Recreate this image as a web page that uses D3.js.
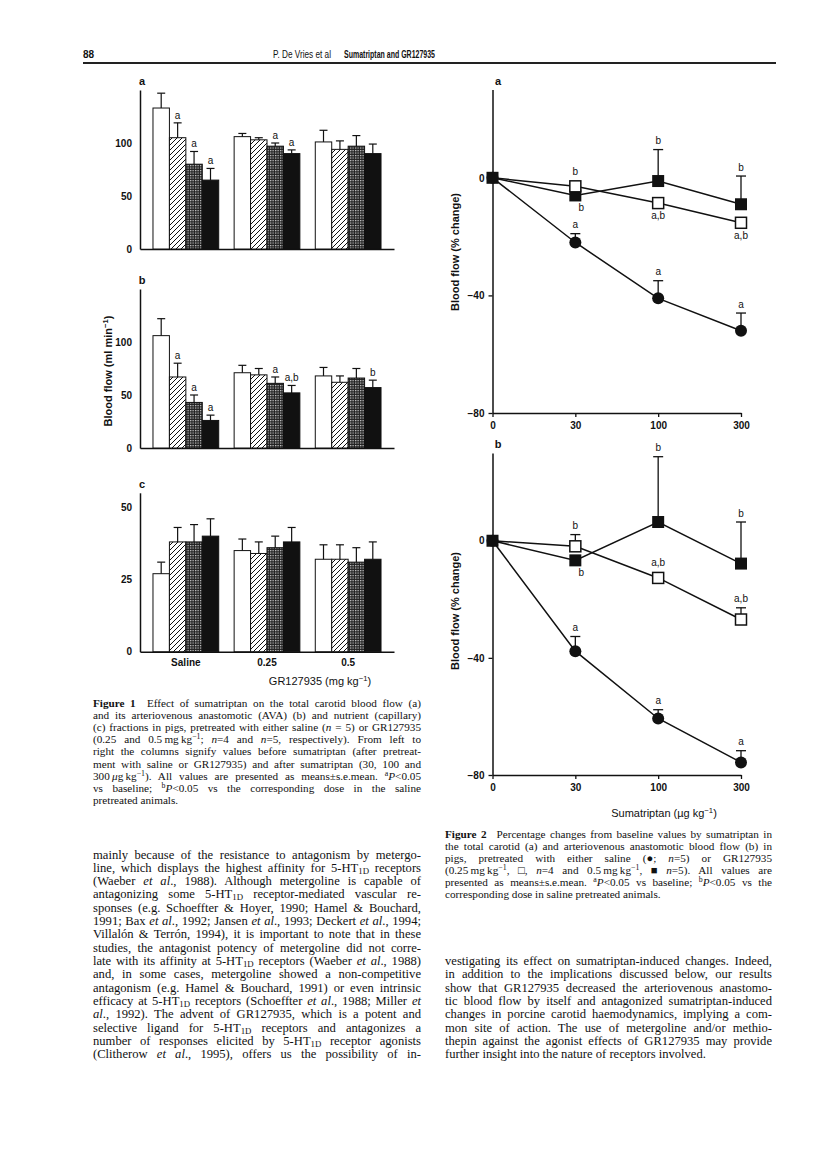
<!DOCTYPE html>
<html>
<head>
<meta charset="utf-8">
<title>Sumatriptan and GR127935</title>
<script src="https://d3js.org/d3.v7.min.js"></script>
<style>
  body { margin: 0; background: #fff; }
  svg { display: block; }
  .sans, .tick text { font-family: "Liberation Sans", Arial, sans-serif; fill: #111; }
  .serif { font-family: "Liberation Serif", "Times New Roman", serif; fill: #111; }
  .narrow { font-family: "Liberation Sans Narrow", "Arial Narrow", "Liberation Sans", sans-serif; fill: #111; }
  .domain { stroke: #111; stroke-width: 1.5; }
  .tick line { stroke: #111; stroke-width: 1.3; }
</style>
</head>
<body>
<script>
// ---- Figure 1: blood flow (ml/min), groups x periods ----
var pretreat = ["Saline", "0.25", "0.5"];
var periods = ["before", "30", "100", "300"];

var totalMean = [[133, 105, 80, 65], [106, 103, 97, 90], [101, 94, 97, 90]];
var totalSem  = [[14, 14, 12, 11], [3, 2, 3, 3.5], [11, 8, 10, 9]];
var totalSig  = [["", "a", "a", "a"], ["", "", "a", "a"], ["", "", "", ""]];

var avaMean = [[106, 67, 43, 26], [71, 69, 61, 52], [68, 62, 66, 57]];
var avaSem  = [[16, 13, 7, 5], [7, 6, 6, 7], [8, 6, 9, 7]];
var avaSig  = [["", "a", "a", "a"], ["", "", "a", "a,b"], ["", "", "", "b"]];

var capMean = [[27, 38, 38, 40], [35, 34, 36, 38], [32, 32, 31, 32]];
var capSem  = [[4, 5, 6, 6], [4, 4, 4, 5], [5, 5, 5, 6]];
var capSig  = [["", "", "", ""], ["", "", "", ""], ["", "", "", ""]];

// ---- Figure 2: % change vs sumatriptan dose ----
var sumaDoses = ["0", "30", "100", "300"];

var carSaline = [0, -22, -41, -52],   carSalineSem = [0, 3, 6, 6];
var carGr025  = [0, -2.9, -8.6, -15.3], carGr025Sem = [0, 0, 0, 0];
var carGr05   = [0, -6, -1.1, -9],    carGr05Sem   = [0, 0, 10.7, 9.6];
var carSalineSig = ["", "a", "a", "a"],   carSalineBelow = [false, false, false, false];
var carGr025Sig  = ["", "b", "a,b", "a,b"], carGr025Below = [false, false, true, true];
var carGr05Sig   = ["", "b", "b", "b"],   carGr05Below   = [false, true, false, false];

var avSaline = [0, -37.7, -60.7, -75.7], avSalineSem = [0, 5, 3, 4];
var avGr025  = [0, -1.9, -12.7, -26.9],  avGr025Sem  = [0, 4, 0, 4];
var avGr05   = [0, -6.7, 6.4, -7.8],     avGr05Sem   = [0, 0, 22.3, 14.2];
var avSalineSig = ["", "a", "a", "a"],   avSalineBelow = [false, false, false, false];
var avGr025Sig  = ["", "b", "a,b", "a,b"], avGr025Below = [false, false, false, false];
var avGr05Sig   = ["", "b", "b", "b"],   avGr05Below   = [false, true, false, false];

// ---- page text ----
var fig1Caption = [
  "**Figure 1**\u2002 Effect of sumatriptan on the total carotid blood flow (a)",
  "and its arteriovenous anastomotic (AVA) (b) and nutrient (capillary)",
  "(c) fractions in pigs, pretreated with either saline (*n* = 5) or GR127935",
  "(0.25 and 0.5\u2009mg\u2009kg^{\u22121}; *n*=4 and *n*=5, respectively). From left to",
  "right the columns signify values before sumatriptan (after pretreat-",
  "ment with saline or GR127935) and after sumatriptan (30, 100 and",
  "300\u2009*\u03bc*g\u2009kg^{\u22121}). All values are presented as means\u00b1s.e.mean. ^{a}*P*<0.05",
  "vs baseline; ^{b}*P*<0.05 vs the corresponding dose in the saline",
  "pretreated animals."
];
var leftBody = [
  "mainly because of the resistance to antagonism by metergo-",
  "line, which displays the highest affinity for 5-HT_{1D} receptors",
  "(Waeber *et al*., 1988). Although metergoline is capable of",
  "antagonizing some 5-HT_{1D} receptor-mediated vascular re-",
  "sponses (e.g. Schoeffter & Hoyer, 1990; Hamel & Bouchard,",
  "1991; Bax *et al*., 1992; Jansen *et al*., 1993; Deckert *et al*., 1994;",
  "Villal\u00f3n & Terr\u00f3n, 1994), it is important to note that in these",
  "studies, the antagonist potency of metergoline did not corre-",
  "late with its affinity at 5-HT_{1D} receptors (Waeber *et al*., 1988)",
  "and, in some cases, metergoline showed a non-competitive",
  "antagonism (e.g. Hamel & Bouchard, 1991) or even intrinsic",
  "efficacy at 5-HT_{1D} receptors (Schoeffter *et al*., 1988; Miller *et*",
  "*al*., 1992). The advent of GR127935, which is a potent and",
  "selective ligand for 5-HT_{1D} receptors and antagonizes a",
  "number of responses elicited by 5-HT_{1D} receptor agonists",
  "(Clitherow *et al*., 1995), offers us the possibility of in-"
];
var fig2Caption = [
  "**Figure 2**\u2002 Percentage changes from baseline values by sumatriptan in",
  "the total carotid (a) and arteriovenous anastomotic blood flow (b) in",
  "pigs, pretreated with either saline (\u25cf; *n*=5) or GR127935",
  "(0.25\u2009mg\u2009kg^{\u22121}, \u25a1, *n*=4 and 0.5\u2009mg\u2009kg^{\u22121}, \u25a0 *n*=5). All values are",
  "presented as means\u00b1s.e.mean. ^{a}*P*<0.05 vs baseline; ^{b}*P*<0.05 vs the",
  "corresponding dose in saline pretreated animals."
];
var rightBody = [
  "vestigating its effect on sumatriptan-induced changes. Indeed,",
  "in addition to the implications discussed below, our results",
  "show that GR127935 decreased the arteriovenous anastomo-",
  "tic blood flow by itself and antagonized sumatriptan-induced",
  "changes in porcine carotid haemodynamics, implying a com-",
  "mon site of action. The use of metergoline and/or methio-",
  "thepin against the agonist effects of GR127935 may provide",
  "further insight into the nature of receptors involved."
];

var svg = d3.select("body").append("svg")
    .attr("width", 816)
    .attr("height", 1155);

var defs = svg.append("defs");
var hatch = defs.append("pattern").attr("id", "hatch")
    .attr("patternUnits", "userSpaceOnUse").attr("width", 5).attr("height", 5);
hatch.append("rect").attr("width", 5).attr("height", 5).attr("fill", "#fff");
hatch.append("path").attr("d", "M-1,1 L1,-1 M0,5 L5,0 M4,6 L6,4")
    .attr("stroke", "#111").attr("stroke-width", 1);
var dots = defs.append("pattern").attr("id", "dots")
    .attr("patternUnits", "userSpaceOnUse").attr("width", 2.5).attr("height", 2.5);
dots.append("rect").attr("width", 2.5).attr("height", 2.5).attr("fill", "#222");
dots.append("circle").attr("cx", 0.7).attr("cy", 0.7).attr("r", 0.65).attr("fill", "#fff");

var barFills = ["#fff", "url(#hatch)", "url(#dots)", "#111"];

// ---------- header ----------
svg.append("text").attr("class", "narrow").attr("x", 83).attr("y", 58)
    .attr("font-size", 10).attr("font-weight", "bold").text("88");
svg.append("text").attr("class", "narrow").attr("x", 273).attr("y", 58)
    .attr("font-size", 10.5).attr("textLength", 58).attr("lengthAdjust", "spacingAndGlyphs")
    .text("P. De Vries et al");
svg.append("text").attr("class", "narrow").attr("x", 344).attr("y", 58)
    .attr("font-size", 10.5).attr("font-weight", "bold").attr("textLength", 91)
    .attr("lengthAdjust", "spacingAndGlyphs").text("Sumatriptan and GR127935");
svg.append("line").attr("x1", 83).attr("x2", 776).attr("y1", 63).attr("y2", 63)
    .attr("stroke", "#222").attr("stroke-width", 2);

// ---------- figure 1 ----------
function barPanel(means, sems, sigs, yMax, ticks, top, base, letter, showX) {
  var g = svg.append("g");
  var y = d3.scaleLinear().domain([0, yMax]).range([base, top]);
  var x0 = d3.scaleBand().domain(pretreat).range([140, 394])
      .paddingInner(0.19).paddingOuter(0.16);
  var x1 = d3.scaleBand().domain(periods).range([0, x0.bandwidth()]);

  g.append("g").attr("transform", "translate(140,0)")
      .call(d3.axisLeft(y).tickValues(ticks).tickSize(0).tickSizeOuter(0).tickPadding(8))
      .call(function(a) { a.selectAll("text").attr("font-size", 10).attr("font-weight", "bold"); });
  g.append("g").attr("transform", "translate(0," + base + ")")
      .call(d3.axisBottom(x0).tickSize(0).tickSizeOuter(0).tickPadding(7)
        .tickFormat(showX ? null : function() { return ""; }))
      .call(function(a) { a.selectAll("text").attr("font-size", 10).attr("font-weight", "bold"); });

  g.append("text").attr("class", "sans").attr("x", 142).attr("y", top - 5)
      .attr("text-anchor", "middle").attr("font-size", 11).attr("font-weight", "bold")
      .text(letter);

  pretreat.forEach(function(grp, gi) {
    periods.forEach(function(p, pi) {
      var v = means[gi][pi], e = sems[gi][pi];
      var bx = x0(grp) + x1(p), cx = bx + x1.bandwidth() / 2;
      g.append("rect").attr("x", bx).attr("y", y(v))
          .attr("width", x1.bandwidth()).attr("height", base - y(v))
          .attr("fill", barFills[pi]).attr("stroke", "#111").attr("stroke-width", 1);
      g.append("line").attr("x1", cx).attr("x2", cx).attr("y1", y(v)).attr("y2", y(v + e))
          .attr("stroke", "#111").attr("stroke-width", 1.2);
      g.append("line").attr("x1", cx - 4).attr("x2", cx + 4).attr("y1", y(v + e)).attr("y2", y(v + e))
          .attr("stroke", "#111").attr("stroke-width", 1.2);
      if (sigs[gi][pi]) {
        g.append("text").attr("class", "sans").attr("x", cx).attr("y", y(v + e) - 4)
            .attr("text-anchor", "middle").attr("font-size", 10).text(sigs[gi][pi]);
      }
    });
  });
  return g;
}

barPanel(totalMean, totalSem, totalSig, 150, [0, 50, 100], 90, 249, "a", false);
var pb = barPanel(avaMean, avaSem, avaSig, 150, [0, 50, 100], 289, 448, "b", false);
barPanel(capMean, capSem, capSig, 55, [0, 25, 50], 492.8, 651.7, "c", true);

var yl1 = pb.append("text").attr("class", "sans").attr("text-anchor", "middle")
    .attr("transform", "translate(112,371) rotate(-90)")
    .attr("font-size", 11).attr("font-weight", "bold");
rich(yl1, "Blood flow (ml min^{\u22121})");

var xl1 = svg.append("text").attr("class", "sans").attr("x", 320).attr("y", 685)
    .attr("text-anchor", "middle").attr("font-size", 11);
rich(xl1, "GR127935 (mg kg^{\u22121})");

// ---------- figure 2 ----------
function linePanel(sets, top, base, letter, titleY) {
  var g = svg.append("g");
  var y = d3.scaleLinear().domain([-80, 30]).range([base, top]);
  var x = d3.scalePoint().domain(sumaDoses).range([492.5, 741]);

  g.append("g").attr("transform", "translate(492.5,0)")
      .call(d3.axisLeft(y).tickValues([-80, -40, 0]).tickSize(4).tickSizeOuter(0).tickPadding(4))
      .call(function(a) { a.selectAll("text").attr("font-size", 10).attr("font-weight", "bold"); });
  g.append("g").attr("transform", "translate(0," + base + ")")
      .call(d3.axisBottom(x).tickSize(4).tickSizeOuter(0).tickPadding(5))
      .call(function(a) { a.selectAll("text").attr("font-size", 10).attr("font-weight", "bold"); });

  g.append("text").attr("class", "sans").attr("x", 498).attr("y", top - 5)
      .attr("text-anchor", "middle").attr("font-size", 11).attr("font-weight", "bold")
      .text(letter);

  var yl = g.append("text").attr("class", "sans").attr("text-anchor", "middle")
      .attr("transform", "translate(459," + titleY + ") rotate(-90)")
      .attr("font-size", 11).attr("font-weight", "bold");
  rich(yl, "Blood flow (% change)");

  var line = d3.line().x(function(d, i) { return x(sumaDoses[i]); }).y(function(d) { return y(d); });

  sets.forEach(function(s) {
    g.append("path").attr("d", line(s.mean)).attr("fill", "none")
        .attr("stroke", "#111").attr("stroke-width", 1.5);
  });
  sets.forEach(function(s) {
    s.mean.forEach(function(v, i) {
      var cx = x(sumaDoses[i]), e = s.sem[i];
      if (e > 0) {
        g.append("line").attr("x1", cx).attr("x2", cx).attr("y1", y(v)).attr("y2", y(v + e))
            .attr("stroke", "#111").attr("stroke-width", 1.3);
        g.append("line").attr("x1", cx - 5).attr("x2", cx + 5).attr("y1", y(v + e)).attr("y2", y(v + e))
            .attr("stroke", "#111").attr("stroke-width", 1.3);
      }
      if (s.shape === "circle") {
        g.append("circle").attr("cx", cx).attr("cy", y(v)).attr("r", 6).attr("fill", "#111");
      } else if (s.shape === "filled") {
        g.append("rect").attr("x", cx - 6).attr("y", y(v) - 6).attr("width", 12).attr("height", 12)
            .attr("fill", "#111");
      } else if (i > 0) {
        g.append("rect").attr("x", cx - 5.5).attr("y", y(v) - 5.5).attr("width", 11).attr("height", 11)
            .attr("fill", "#fff").attr("stroke", "#111").attr("stroke-width", 1.5);
      }
      if (s.sig[i]) {
        var ty = s.below[i] ? y(v) + 16 : (e > 0 ? y(v + e) : y(v) - 6) - 5.5;
        var tx = (s.below[i] && s.shape === "filled") ? cx + 6 : cx;
        g.append("text").attr("class", "sans").attr("x", tx).attr("y", ty)
            .attr("text-anchor", "middle").attr("font-size", 10).text(s.sig[i]);
      }
    });
  });
  return { g: g, x: x };
}

linePanel([
  { mean: carSaline, sem: carSalineSem, sig: carSalineSig, below: carSalineBelow, shape: "circle" },
  { mean: carGr05, sem: carGr05Sem, sig: carGr05Sig, below: carGr05Below, shape: "filled" },
  { mean: carGr025, sem: carGr025Sem, sig: carGr025Sig, below: carGr025Below, shape: "open" }
], 89.6, 413, "a", 252);

linePanel([
  { mean: avSaline, sem: avSalineSem, sig: avSalineSig, below: avSalineBelow, shape: "circle" },
  { mean: avGr05, sem: avGr05Sem, sig: avGr05Sig, below: avGr05Below, shape: "filled" },
  { mean: avGr025, sem: avGr025Sem, sig: avGr025Sig, below: avGr025Below, shape: "open" }
], 452.9, 775, "b", 611);

var xl2 = svg.append("text").attr("class", "sans").attr("x", 664).attr("y", 817)
    .attr("text-anchor", "middle").attr("font-size", 11);
rich(xl2, "Sumatriptan (\u00b5g kg^{\u22121})");

// ---------- text blocks ----------
function rich(sel, str) {
  var re = /\*\*(.+?)\*\*|\*(.+?)\*|\^\{(.+?)\}|_\{(.+?)\}|([^*^_]+)/g, m;
  while ((m = re.exec(str))) {
    var t = sel.append("tspan");
    if (m[1]) t.attr("font-weight", "bold").text(m[1]);
    else if (m[2]) t.attr("font-style", "italic").text(m[2]);
    else if (m[3]) t.attr("baseline-shift", "0.5em").attr("font-size", "70%").text(m[3]);
    else if (m[4]) t.attr("baseline-shift", "-0.2em").attr("font-size", "70%").text(m[4]);
    else t.text(m[5]);
  }
}

function block(lines, x, y0, lh, width, size, justifyLast) {
  lines.forEach(function(s, i) {
    var t = svg.append("text").attr("class", "serif").attr("x", x).attr("y", y0 + i * lh)
        .attr("font-size", size);
    rich(t, s);
    if (i < lines.length - 1 || justifyLast) {
      var len = t.node().getComputedTextLength();
      var n = (t.text().match(/ /g) || []).length;
      if (n > 0) t.style("word-spacing", ((width - len) / n) + "px");
    }
  });
}

block(fig1Caption, 93, 707, 12.1, 328, 11.2, false);
block(leftBody, 93, 858.5, 13.33, 328, 12.6, true);
block(fig2Caption, 445, 838, 11.9, 327, 11.2, false);
block(rightBody, 445, 965, 13.33, 327, 12.6, false);
</script>
</body>
</html>
